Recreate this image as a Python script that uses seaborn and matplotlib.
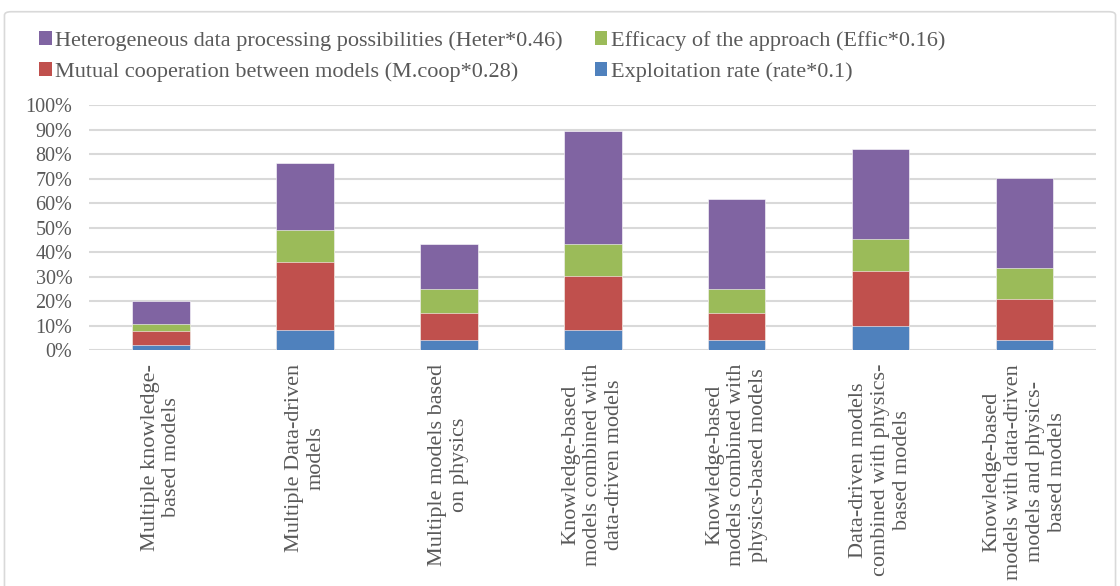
import numpy as np
import pandas as pd
import seaborn as sns
import matplotlib.pyplot as plt
from matplotlib.patches import FancyBboxPatch, Patch
from matplotlib.ticker import PercentFormatter

categories = [
    "Multiple knowledge-\nbased models",
    "Multiple Data-driven\nmodels",
    "Multiple models based\non physics",
    "Knowledge-based\nmodels combined with\ndata-driven models",
    "Knowledge-based\nmodels combined with\nphysics-based models",
    "Data-driven models\ncombined with physics-\nbased models",
    "Knowledge-based\nmodels with data-driven\nmodels and physics-\nbased models",
]

# weighted scores in percent, bottom to top
rate = [2.0, 8.0, 4.0, 8.0, 4.0, 10.0, 4.0]
mcoop = [5.6, 28.0, 11.2, 22.4, 11.2, 22.4, 16.8]
effic = [3.2, 12.8, 9.6, 12.8, 9.6, 12.8, 12.8]
heter = [9.2, 27.6, 18.4, 46.0, 36.8, 36.8, 36.8]

series_names = [
    "Exploitation rate (rate*0.1)",
    "Mutual cooperation between models (M.coop*0.28)",
    "Efficacy of the approach (Effic*0.16)",
    "Heterogeneous data processing possibilities (Heter*0.46)",
]
colors = ["#4F81BD", "#C0504D", "#9BBB59", "#8064A2"]

plt.rcParams['font.family'] = ['Liberation Serif', 'DejaVu Serif']
text_color = "#595959"

df = pd.DataFrame({"cat": categories, "rate": rate, "mcoop": mcoop,
                   "effic": effic, "heter": heter})
cum = df[["rate", "mcoop", "effic", "heter"]].cumsum(axis=1)

fig = plt.figure(figsize=(11.2, 5.86), dpi=100)
ax = fig.add_axes([0.0795, 0.4027, 0.8995, 0.4181])

# draw the tallest stack first so each lower layer covers it
for col, color in zip(["heter", "effic", "mcoop", "rate"], colors[::-1]):
    sns.barplot(x=df["cat"], y=cum[col] / 100, color=color, width=0.4,
                saturation=1, ax=ax, edgecolor="white", linewidth=0.4, zorder=3)

ax.set_ylim(0, 1)
ax.set_xlim(-0.5, len(categories) - 0.5)
ax.set_yticks(np.arange(0, 1.01, 0.1))
ax.yaxis.set_major_formatter(PercentFormatter(1, decimals=0))
ax.grid(axis="y", color="#d9d9d9", linewidth=1.5, zorder=0)
ax.set_axisbelow(True)
for s in ax.spines.values():
    s.set_visible(False)
ax.set_xlabel("")
ax.set_ylabel("")
ax.tick_params(axis="y", length=0, labelsize=14.5, colors=text_color, pad=12)
ax.tick_params(axis="x", length=0, labelsize=16, colors=text_color, pad=10)
plt.setp(ax.get_xticklabels(), rotation=90, ha="center", va="top",
         multialignment="center", linespacing=1.2)

order = [3, 1, 2, 0]
handles = [Patch(facecolor=colors[i], label=series_names[i]) for i in order]
fig.legend(handles=handles, loc="upper left",
           bbox_to_anchor=(28 / 1120, 1 - 20 / 586),
           ncol=2, frameon=False, fontsize=16, handlelength=0.56,
           handleheight=0.56, handletextpad=0.15, columnspacing=1.45,
           labelspacing=0.5, borderpad=0, labelcolor=text_color)

border = FancyBboxPatch((0.004, -0.02), 0.992, 1.0, transform=fig.transFigure,
                        boxstyle="round,pad=0,rounding_size=0.006",
                        facecolor="none", edgecolor="#d9d9d9", linewidth=1.2)
fig.patches.append(border)

fig.savefig("out.png", dpi=100)
